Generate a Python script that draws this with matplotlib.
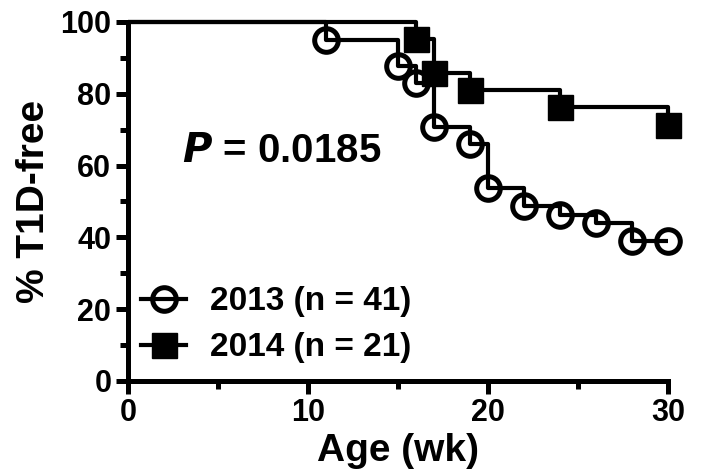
import matplotlib
matplotlib.use('Agg')
import matplotlib.pyplot as plt
from matplotlib.lines import Line2D
from matplotlib.legend_handler import HandlerTuple
from matplotlib.ticker import MultipleLocator

plt.rcParams['font.family'] = ['Liberation Sans', 'DejaVu Sans']
plt.rcParams['font.weight'] = 'bold'

# Kaplan-Meier style steps
weeks_2013 = [0, 11, 15, 16, 17, 19, 20, 22, 24, 26, 28, 30]
pct_2013 = [100, 95.1, 87.8, 82.9, 70.7, 65.9, 53.7, 48.8, 46.3, 43.9, 39.0, 39.0]
weeks_2014 = [0, 16, 17, 19, 24, 30]
pct_2014 = [100, 95.2, 85.7, 81.0, 76.2, 71.4]

label_2013 = '2013 (n = 41)'
label_2014 = '2014 (n = 21)'
p_text = '0.0185'

fig = plt.figure(figsize=(7.03, 4.76), dpi=100)
ax = fig.add_axes([0.182, 0.1996, 0.768, 0.7542])

lw = 3.0
# 2013: open circles, step line drawn on top of the markers
ax.plot(weeks_2013[1:], pct_2013[1:], linestyle='none', marker='o', ms=17,
        mfc='white', mec='black', mew=3.6, zorder=2, clip_on=False)
ax.plot(weeks_2013, pct_2013, drawstyle='steps-post', color='black', lw=lw,
        zorder=3, clip_on=False, solid_capstyle='butt')
# 2014: filled squares
ax.plot(weeks_2014, pct_2014, drawstyle='steps-post', color='black', lw=lw,
        zorder=3, clip_on=False, solid_capstyle='butt')
ax.plot(weeks_2014[1:], pct_2014[1:], linestyle='none', marker='s', ms=18,
        mfc='black', mec='black', zorder=4, clip_on=False)

ax.set_xlim(0, 30)
ax.set_ylim(0, 100)
ax.xaxis.set_major_locator(MultipleLocator(10))
ax.xaxis.set_minor_locator(MultipleLocator(5))
ax.yaxis.set_major_locator(MultipleLocator(20))
ax.yaxis.set_minor_locator(MultipleLocator(10))

for side in ['top', 'right']:
    ax.spines[side].set_visible(False)
for side in ['left', 'bottom']:
    ax.spines[side].set_linewidth(3.6)

ax.tick_params(which='major', length=9, width=3.6, labelsize=22, pad=3)
ax.tick_params(which='minor', length=6, width=3.6)
for lab in ax.get_xticklabels() + ax.get_yticklabels():
    lab.set_fontweight('bold')

ax.set_ylabel('% T1D-free', fontsize=28, fontweight='bold', labelpad=6)
ax.set_xlabel('Age (wk)', fontsize=28, fontweight='bold', labelpad=4)

ax.text(3.0, 64, r'$\bf{\it{P}}$' + ' = ' + p_text, fontsize=29, fontweight='bold',
        va='center', ha='left')

# legend: line drawn over the marker, like the original
h13_m = Line2D([], [], linestyle='none', marker='o', ms=17, mfc='white',
               mec='black', mew=3.6)
h13_l = Line2D([], [], color='black', lw=lw)
h14_l = Line2D([], [], color='black', lw=lw)
h14_m = Line2D([], [], linestyle='none', marker='s', ms=18, mfc='black', mec='black')
ax.legend([(h13_m, h13_l), (h14_l, h14_m)], [label_2013, label_2014],
          handler_map={tuple: HandlerTuple(ndivide=1, pad=0)},
          loc='lower left', bbox_to_anchor=(0.0, 0.012), frameon=False,
          prop={'size': 24, 'weight': 'bold'}, handlelength=1.35,
          handletextpad=0.7, labelspacing=0.45, borderaxespad=0)

fig.savefig('out.png', dpi=100)
